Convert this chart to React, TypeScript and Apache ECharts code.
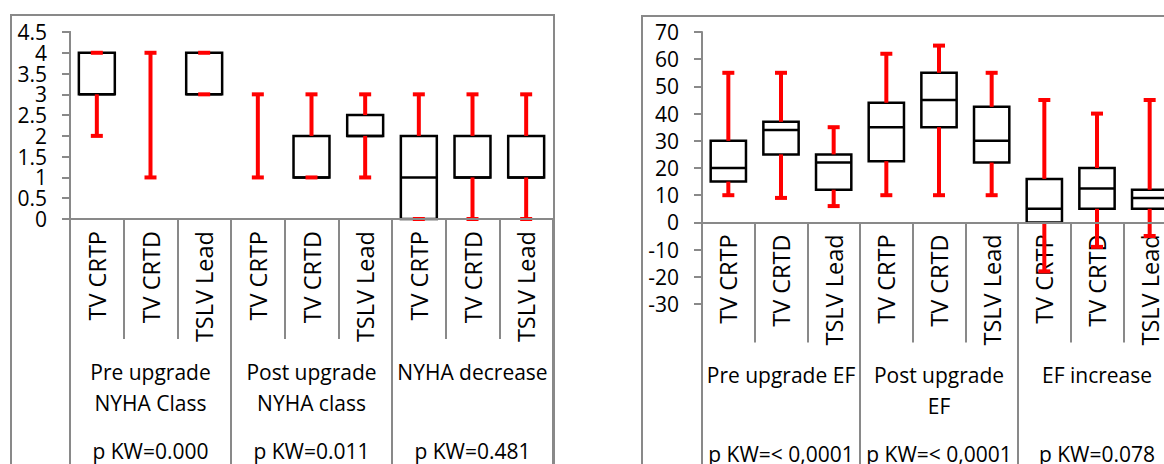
import React, { useEffect, useRef } from 'react';
import * as echarts from 'echarts';

const categories = ['TV CRTP', 'TV CRTD', 'TSLV Lead', 'TV CRTP', 'TV CRTD', 'TSLV Lead', 'TV CRTP', 'TV CRTD', 'TSLV Lead'];

const nyhaGroups = ['Pre upgrade\nNYHA Class', 'Post upgrade\nNYHA class', 'NYHA decrease'];
const nyhaPValues = ['p KW=0.000', 'p KW=0.011', 'p KW=0.481'];
// [min, Q1, median, Q3, max]
const nyhaBoxes = [
  [2, 3, 3, 4, 4],
  [1, 4, 4, 4, 4],
  [3, 3, 3, 4, 4],
  [1, 3, 3, 3, 3],
  [1, 1, 1, 2, 3],
  [1, 2, 2, 2.5, 3],
  [0, 0, 1, 2, 3],
  [0, 1, 1, 2, 3],
  [0, 1, 1, 2, 3],
];
const nyhaAxis = { min: 0, max: 4.5, interval: 0.5 };

const efGroups = ['Pre upgrade EF', 'Post upgrade\nEF', 'EF increase'];
const efPValues = ['p KW=< 0,0001', 'p KW=< 0,0001', 'p KW=0.078'];
const efBoxes = [
  [10, 15, 20, 30, 55],
  [9, 25, 34, 37, 55],
  [6, 12, 22, 25, 35],
  [10, 22.5, 35, 44, 62],
  [10, 35, 45, 55, 65],
  [10, 22, 30, 42.5, 55],
  [-18, 0, 5, 16, 45],
  [-9, 5, 12.5, 20, 40],
  [-5, 5, 9, 12, 45],
];
const efAxis = { min: -30, max: 70, interval: 10 };

const FONT = "'Open Sans', sans-serif";
const GRAY = '#898989';
const FS = 21;
const CAT_FS = 23.5;

const NYHA_GRID = { left: 70, top: 32, width: 483, height: 187 };
const EF_GRID = { left: 702, top: 32, width: 474, height: 272 };

type AxisCfg = { min: number; max: number; interval: number };

function renderBox(params: any, api: any) {
  const idx = api.value(0);
  const mn = api.value(1), q1 = api.value(2), md = api.value(3), q3 = api.value(4), mx = api.value(5);
  const cx = api.coord([idx, md])[0];
  const y = (v: number) => api.coord([idx, v])[1];
  const band = api.size([1, 0])[0];
  const hw = band * 0.335;
  const cap = 6;
  const children: any[] = [];
  if (q3 > q1) {
    children.push({
      type: 'rect',
      shape: { x: cx - hw, y: y(q3), width: hw * 2, height: y(q1) - y(q3) },
      style: { fill: '#fff', stroke: '#000', lineWidth: 2.5 },
    });
    children.push({
      type: 'line',
      shape: { x1: cx - hw, y1: y(md), x2: cx + hw, y2: y(md) },
      style: { stroke: '#000', lineWidth: 2.5 },
    });
  }
  const red = { stroke: '#ff0000', lineWidth: 4 };
  if (mn < q1) children.push({ type: 'line', shape: { x1: cx, y1: y(mn), x2: cx, y2: y(q1) }, style: red });
  if (mx > q3) children.push({ type: 'line', shape: { x1: cx, y1: y(q3), x2: cx, y2: y(mx) }, style: red });
  children.push({ type: 'line', shape: { x1: cx - cap, y1: y(mn), x2: cx + cap, y2: y(mn) }, style: red });
  children.push({ type: 'line', shape: { x1: cx - cap, y1: y(mx), x2: cx + cap, y2: y(mx) }, style: red });
  return { type: 'group', children };
}

// offset (negative = upward) that puts a bottom x axis on the value 0 of the y scale
function zeroOffset(cfg: { min: number; max: number }, height: number) {
  return -((0 - cfg.min) / (cfg.max - cfg.min)) * height;
}

function xAxesFor(gridIndex: number, groups: string[], pvals: string[], offset: number) {
  const base = { type: 'category', gridIndex, position: 'bottom', offset };
  return [
    {
      ...base,
      data: categories,
      z: 0,
      axisLine: { show: false, onZero: false },
      axisTick: { show: true, interval: 0, length: 120, lineStyle: { color: GRAY, width: 2 } },
      axisLabel: { interval: 0, rotate: 90, margin: 12, color: '#000', fontSize: CAT_FS, fontFamily: FONT },
    },
    {
      ...base,
      data: groups,
      z: 3,
      axisLine: { show: true, onZero: false, lineStyle: { color: GRAY, width: 2 } },
      axisTick: { show: true, interval: 0, length: 300, lineStyle: { color: GRAY, width: 2 } },
      axisLabel: { interval: 0, margin: 137, lineHeight: 31, color: '#000', fontSize: FS, fontFamily: FONT },
    },
    {
      ...base,
      data: pvals,
      z: 0,
      axisLine: { show: false, onZero: false },
      axisTick: { show: false },
      axisLabel: { interval: 0, margin: 216, lineHeight: 31, color: '#000', fontSize: FS, fontFamily: FONT },
    },
  ];
}

// parity: null = every tick labelled; 0 / 1 = only even / odd tick indices labelled
// (the crowded NYHA scale is split over two coincident axes so that ECharts keeps every label)
function yAxisFor(gridIndex: number, cfg: AxisCfg, parity: number | null) {
  const fmt = (v: number) => {
    if (parity === null) return String(v);
    const i = Math.round((v - cfg.min) / cfg.interval);
    return i % 2 === parity ? String(v) : '';
  };
  return {
    type: 'value',
    gridIndex,
    position: 'left',
    min: cfg.min,
    max: cfg.max,
    interval: cfg.interval,
    axisLine: { show: true, onZero: false, lineStyle: { color: GRAY, width: 2 } },
    axisTick: { show: true, length: 8, lineStyle: { color: GRAY, width: 2 } },
    axisLabel: {
      margin: 23,
      formatter: fmt,
      color: '#000',
      fontSize: FS,
      fontFamily: FONT,
      showMinLabel: parity === null ? true : parity === 0,
      showMaxLabel: parity === null ? true : parity === 1,
    },
    splitLine: { show: false },
  };
}

export default function App() {
  const ref = useRef<HTMLDivElement>(null);
  useEffect(() => {
    document.body.style.margin = '0';
    if (!ref.current) return;
    const chart = echarts.init(ref.current, undefined, { renderer: 'svg' });
    chart.setOption({
      animation: false,
      backgroundColor: '#fff',
      grid: [
        { ...NYHA_GRID, containLabel: false, outerBoundsMode: 'none' },
        { ...EF_GRID, containLabel: false, outerBoundsMode: 'none' },
      ],
      xAxis: [
        ...xAxesFor(0, nyhaGroups, nyhaPValues, zeroOffset(nyhaAxis, NYHA_GRID.height)),
        ...xAxesFor(1, efGroups, efPValues, zeroOffset(efAxis, EF_GRID.height)),
      ],
      yAxis: [yAxisFor(0, nyhaAxis, 0), yAxisFor(1, efAxis, null), yAxisFor(0, nyhaAxis, 1)],
      graphic: [
        { type: 'rect', shape: { x: 11, y: 15, width: 543, height: 520 }, style: { fill: 'none', stroke: GRAY, lineWidth: 2 }, z: 10 },
        { type: 'rect', shape: { x: 642, y: 16, width: 600, height: 520 }, style: { fill: 'none', stroke: GRAY, lineWidth: 2 }, z: 10 },
      ],
      series: [
        {
          type: 'custom',
          xAxisIndex: 0,
          yAxisIndex: 0,
          renderItem: renderBox,
          encode: { x: 0, y: [1, 2, 3, 4, 5] },
          data: nyhaBoxes.map((b, i) => [i, ...b]),
          z: 2,
        },
        {
          type: 'custom',
          xAxisIndex: 3,
          yAxisIndex: 1,
          renderItem: renderBox,
          encode: { x: 0, y: [1, 2, 3, 4, 5] },
          data: efBoxes.map((b, i) => [i, ...b]),
          z: 2,
        },
      ],
    });
    return () => chart.dispose();
  }, []);
  return <div ref={ref} style={{ width: 1164, height: 464 }} />;
}
